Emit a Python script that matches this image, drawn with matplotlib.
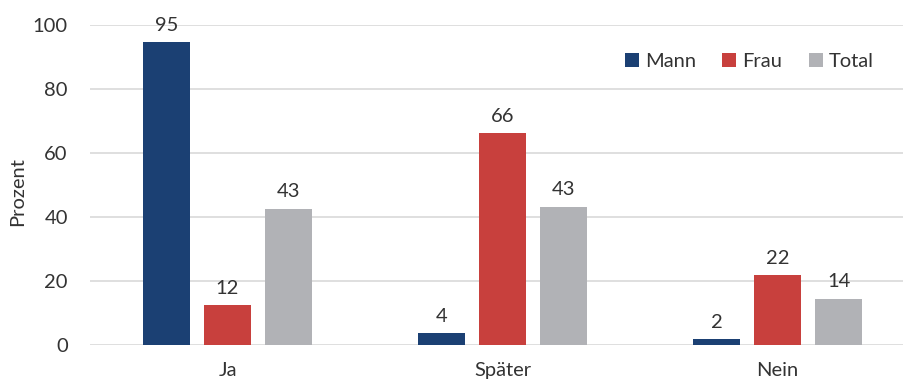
import numpy as np
import matplotlib.pyplot as plt

plt.rcParams['font.family'] = ['Lato', 'DejaVu Sans']

categories = ["Ja", "Später", "Nein"]
mann = [94.7, 3.7, 1.8]
frau = [12.4, 66.1, 21.8]
total = [42.6, 43.2, 14.5]
series = ["Mann", "Frau", "Total"]
colors = ["#1B4073", "#C8403D", "#B1B2B6"]

fs = 14.5
fig = plt.figure(figsize=(9.04, 3.83), dpi=100)
ax = fig.add_axes([90 / 904, 38 / 383, 1 - 90 / 904, 320 / 383])

x = np.arange(len(categories))
w = 0.174
step = 0.222
for k, (vals, name, c) in enumerate(zip([mann, frau, total], series, colors)):
    pos = x + (k - 1) * step
    ax.bar(pos, vals, w, color=c, label=name, zorder=3)
    for p, v in zip(pos, vals):
        ax.annotate(str(int(round(v))), (p, v), xytext=(0, 6), textcoords='offset points',
                    ha='center', va='bottom', fontsize=fs, color='#333333', clip_on=False)

ax.set_xlim(-0.5, 2.46)
ax.set_ylim(0, 100)
ax.set_yticks([0, 20, 40, 60, 80, 100])
ax.set_xticks(x)
ax.set_xticklabels(categories)
ax.tick_params(axis='both', length=0, labelsize=fs, labelcolor='#333333')
ax.tick_params(axis='x', pad=12)
ax.tick_params(axis='y', pad=16)
ax.yaxis.grid(True, color='#D9D9D9', linewidth=1.2, zorder=0)
for s in ax.spines.values():
    s.set_visible(False)
fig.text(18 / 904, 0.5, "Prozent", rotation=90, ha='center', va='center',
         fontsize=fs, color='#333333')

ax.legend(loc='upper right', bbox_to_anchor=(0.985, 0.97), ncol=3, frameon=False, fontsize=fs,
          handlelength=0.7, handleheight=0.7, handletextpad=0.3, columnspacing=1.3,
          labelcolor='#333333')

fig.savefig("out.png", dpi=100)
